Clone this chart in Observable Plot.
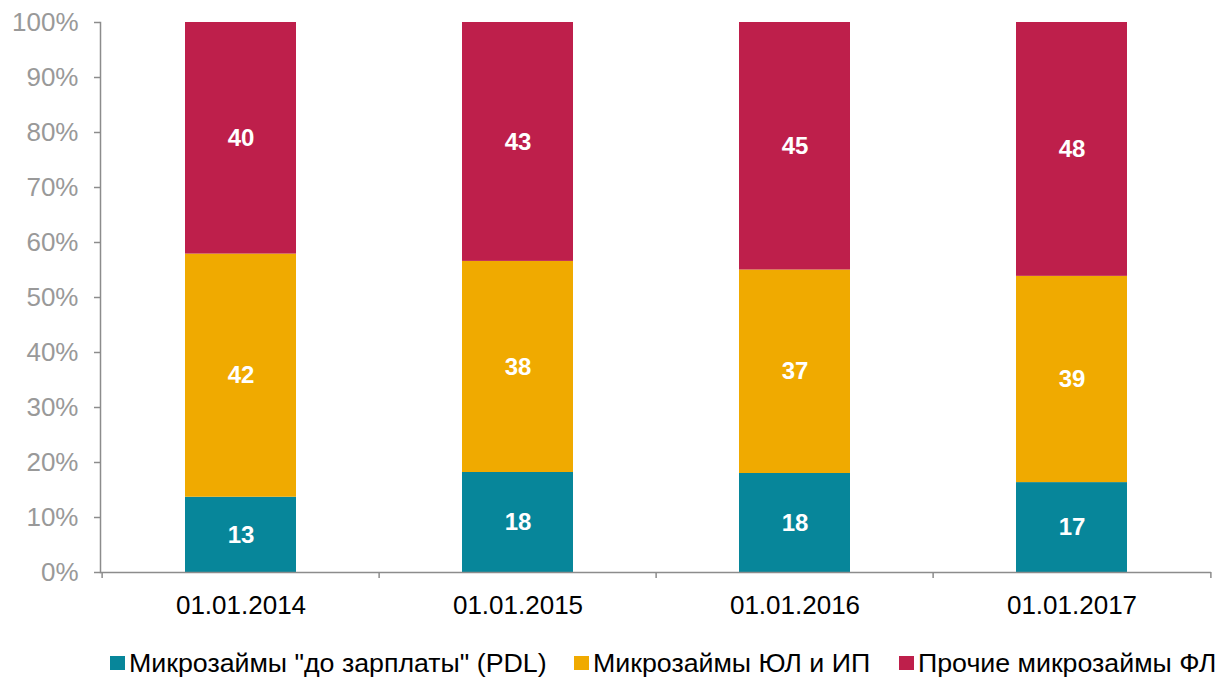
<!DOCTYPE html>
<html><head><meta charset="utf-8">
<script src="https://cdn.jsdelivr.net/npm/d3@7"></script>
<script src="https://cdn.jsdelivr.net/npm/@observablehq/plot@0.6"></script>
<style>
body{margin:0;background:#fff;font-family:"Liberation Sans",Arial,sans-serif;width:1217px;}
#legend{position:relative;height:48px;font-size:25px;color:#000;}
.item{position:absolute;top:20px;height:26px;line-height:26px;white-space:pre;}
.sw{position:absolute;left:0;top:6px;width:15px;height:14px;}
.lbl{position:absolute;left:19px;top:0;transform:scaleX(1.07);transform-origin:left center;}
</style></head><body><div id="chart"></div><div id="legend"></div>
<script>
const dates = ["01.01.2014", "01.01.2015", "01.01.2016", "01.01.2017"];
const series = ['Микрозаймы "до зарплаты" (PDL)', "Микрозаймы ЮЛ и ИП", "Прочие микрозаймы ФЛ"];
const pdl = [13, 18, 18, 17];
const ulIp = [42, 38, 37, 39];
const other = [40, 43, 45, 48];
const colors = ["#07869A", "#F0AA00", "#BE1F4B"];
const yTicks = [0, 0.1, 0.2, 0.3, 0.4, 0.5, 0.6, 0.7, 0.8, 0.9, 1];

const seriesValues = [pdl, ulIp, other];
const data = dates.flatMap((d, i) => series.map((s, j) => ({date: d, series: s, value: seriesValues[j][i]})));

const W = 1217, H = 630, ML = 100, MR = 6;
const step = (W - ML - MR) / dates.length;
const axisColor = "#8c8c8c";

const chart = Plot.plot({
  width: W, height: H,
  marginLeft: ML, marginRight: MR, marginTop: 22, marginBottom: 58,
  style: {fontFamily: "'Liberation Sans', Arial, sans-serif", fontSize: "26px", background: "white"},
  x: {domain: dates, paddingInner: 0.6, paddingOuter: 0.3, label: null},
  y: {domain: [0, 1], label: null},
  color: {domain: series, range: colors},
  marks: [
    Plot.barY(data, Plot.stackY({offset: "normalize", order: series, x: "date", y: "value", fill: "series"})),
    Plot.text(data, Plot.stackY({offset: "normalize", order: series, x: "date", y: "value", z: "series", text: "value", fill: "white", fontWeight: "bold", fontSize: 24})),
    Plot.frame({anchor: "left", stroke: axisColor, strokeWidth: 1.5}),
    Plot.ruleY([0], {stroke: axisColor, strokeWidth: 1.5}),
    Plot.ruleX(dates, {x: d => d, dx: -step / 2, y1: 0, y2: 0, insetBottom: -6, stroke: axisColor, strokeWidth: 1.5}),
    Plot.ruleX([dates[dates.length - 1]], {x: d => d, dx: step / 2, y1: 0, y2: 0, insetBottom: -6, stroke: axisColor, strokeWidth: 1.5}),
    Plot.axisY({ticks: yTicks, tickSize: 6, tickFormat: null, text: null, stroke: axisColor, strokeWidth: 1.5}),
    Plot.axisY({ticks: yTicks, tickSize: 0, tickPadding: 22, tickFormat: d => Math.round(d * 100) + "%", fill: "#999", fontSize: 26}),
    Plot.axisX({tickSize: 0, tickPadding: 23, fill: "#000", fontSize: 26})
  ]
});
document.getElementById("chart").appendChild(chart);

const legend = document.getElementById("legend");
const legendLeft = [110, 574, 899];
series.forEach((s, i) => {
  const it = document.createElement("div");
  it.className = "item";
  it.style.left = legendLeft[i] + "px";
  const sw = document.createElement("span");
  sw.className = "sw";
  sw.style.background = colors[i];
  it.appendChild(sw);
  const lb = document.createElement("span");
  lb.className = "lbl";
  lb.textContent = s;
  it.appendChild(lb);
  legend.appendChild(it);
});
</script>
</body></html>
